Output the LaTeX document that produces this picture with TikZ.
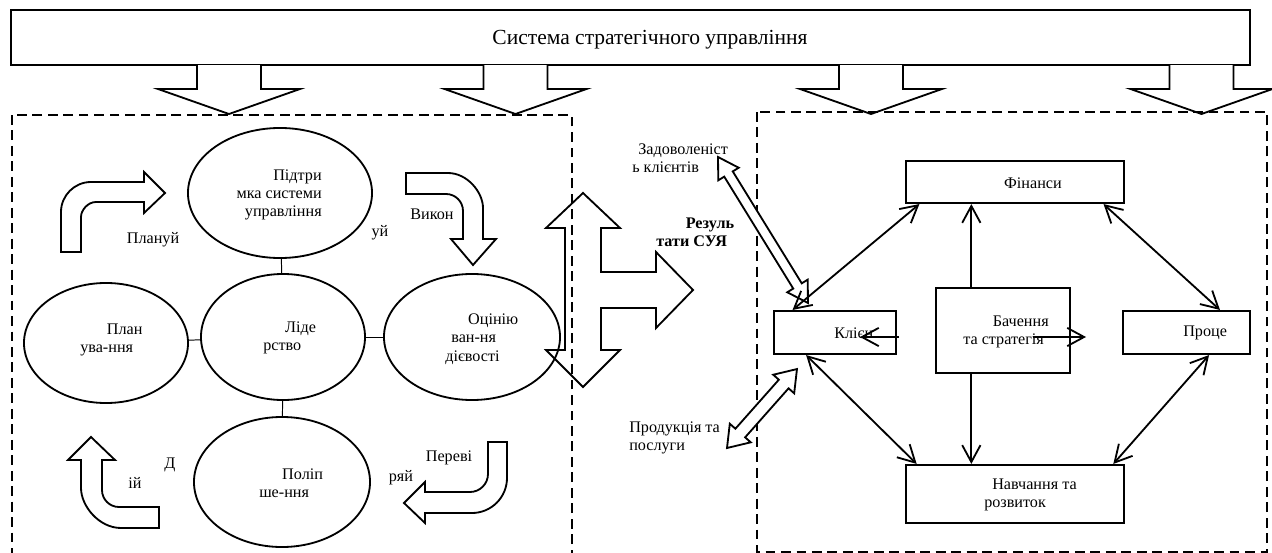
\documentclass[tikz,border=0pt]{standalone}
\usepackage{fontspec}
\setmainfont{Liberation Serif}
\usetikzlibrary{arrows.meta,shapes.geometric}

\tikzset{
  >={Straight Barb[length=12pt,width=13pt]},
  ellip/.style={draw, ellipse, line width=1.3pt, inner sep=0pt},
  rbox/.style={draw, rectangle, line width=1.5pt, inner sep=0pt},
  lbl/.style={inner sep=0pt, align=left, font=\fontsize{11.5}{13}\selectfont},
  blk/.style={draw, line width=1.3pt, fill=white, line join=miter},
  dashbox/.style={dash pattern=on 7pt off 4pt, line width=1.4pt},
  link/.style={line width=1.3pt},
  pics/downarr/.style={code={
    \draw[blk] (-32,0) -- (-32,24) -- (-71,24) -- (0,49) -- (71,24) -- (32,24) -- (32,0);}},
  pics/dblarr/.style n args={3}{code={
    \draw[blk] (0,0) -- (20,#3) -- (20,#2) -- ({#1-20},#2) -- ({#1-20},#3) -- (#1,0)
      -- ({#1-20},-#3) -- ({#1-20},-#2) -- (20,-#2) -- (20,-#3) -- cycle;}}
}

\begin{document}
\begin{tikzpicture}[x=0.025cm, y=-0.025cm]
    \useasboundingbox (0,0) rectangle (1272,553);
    % banner
    \node[rbox, minimum width=30.975cm, minimum height=1.375cm] (sys) at (630.5,37.5) {};
    \node[lbl, font=\fontsize{15.3}{17}\selectfont] (sys-t) at (650,40) {Система стратегічного управління};
    \foreach \cx in {229,515.5,871,1201.5}
        \pic at (\cx,65) {downarr};
    \draw[dashbox] (12,115) rectangle (572,560);
    \draw[dashbox] (757,112) rectangle (1267,552);

    % left panel
    \node[ellip, minimum width=4.6cm, minimum height=3.25cm] (pod) at (280,193) {};
    \node[ellip, minimum width=4.1cm, minimum height=3cm] (plan) at (106,343) {};
    \node[ellip, minimum width=4.1cm, minimum height=3.15cm] (lid) at (283,337) {};
    \node[ellip, minimum width=4.4cm, minimum height=3.15cm] (ocin) at (472,337) {};
    \node[ellip, minimum width=4.4cm, minimum height=3.25cm] (polip) at (282,482) {};
    \draw[line width=0.7pt] (pod) -- (lid);
    \draw[line width=0.7pt] (plan) -- (lid);
    \draw[line width=0.7pt] (lid) -- (ocin);
    \draw[line width=0.7pt] (lid) -- (polip);
    \node[lbl, align=right, anchor=east] (pod-t) at (322,195) {Підтри\\мка системи\\управління};
    \node[lbl, anchor=west] (plan-t) at (80,340) {\hspace*{19pt}План\\ува-ння};
    \node[lbl, anchor=west] (lid-t) at (263,338) {\hspace*{15.6pt}Ліде\\рство};
    \node[lbl, anchor=west] (ocin-t) at (445,339) {\hspace*{16.3pt}Оцінію\\\hspace*{4.3pt}ван-ня\\дієвості};
    \node[lbl, anchor=west] (polip-t) at (259,483) {\hspace*{16.3pt}Поліп\\ше-ння};

    \draw[blk] (61,252) -- (61,212) .. controls (61,195.5) and (74.5,182) .. (91,182) -- (144,182)
        -- (144,172) -- (165,193) -- (144,213) -- (144,202) -- (96,202)
        .. controls (87.7,202) and (81,210.3) .. (81,217) -- (81,252) -- cycle;
    \draw[blk] (406,173) -- (448,173) .. controls (467.3,173) and (483,192.3) .. (483,208) -- (483,239)
        -- (496,239) -- (473,265) -- (451,239) -- (463,239) -- (463,211)
        .. controls (463,201.6) and (455.4,194) .. (446,194) -- (406,194) -- cycle;
    \draw[blk] (159,528) -- (121,528) .. controls (99,528) and (81,506) .. (81,488) -- (81,460)
        -- (68,460) -- (91,437) -- (115,460) -- (102,460) -- (102,490)
        .. controls (102,499.4) and (109.6,507) .. (119,507) -- (159,507) -- cycle;
    \draw[blk] (507,442) -- (507,478) .. controls (507,497.3) and (491.3,513) .. (472,513) -- (425,513)
        -- (425,523) -- (404,503) -- (425,482) -- (425,492) -- (470,492)
        .. controls (479.9,492) and (488,483.9) .. (488,474) -- (488,442) -- cycle;
    \node[lbl] (plan-a) at (153,240) {Плануй};
    \node[lbl] (vyk-a) at (432,214) {Викон};
    \node[lbl] (vyk-b) at (380,233) {уй};
    \node[lbl] (dii-a) at (170,465) {Д};
    \node[lbl] (dii-b) at (135,483) {ій};
    \node[lbl] (per-a) at (449,458) {Переві};
    \node[lbl] (per-b) at (401,478) {ряй};

    % results
    \draw[blk, fill=none] (583,193) -- (620,228) -- (601,228) -- (601,272) -- (656,272) -- (656,252)
        -- (693,290) -- (656,328) -- (656,308) -- (601,308) -- (601,350) -- (620,350) -- (583,387)
        -- (546,350) -- (565,350) -- (565,228) -- (546,228) -- cycle;
    \node[lbl, font=\fontsize{11.5}{13}\selectfont\bfseries, anchor=west] (res-t) at (656,232) {\hspace*{21pt}Резуль\\тати СУЯ};
    \pic[rotate=-58.35] at (718,157) {dblarr={171.5}{5}{12}};
    \pic[rotate=48.45] at (727,448) {dblarr={105.5}{6.5}{14}};
    \node[lbl, anchor=west] (zad-t) at (632,158) {\hspace*{4.3pt}Задоволеніст\\ь клієнтів};
    \node[lbl, anchor=west] (prod-t) at (629,438) {Продукція та\\послуги};

    % right panel
    \node[rbox, minimum width=5.45cm, minimum height=1.05cm] (fin) at (1015,182) {};
    \node[rbox, minimum width=3.05cm, minimum height=1.075cm] (kli) at (835,332.5) {};
    \node[rbox, minimum width=3.35cm, minimum height=2.125cm] (bach) at (1003,330.5) {};
    \node[rbox, minimum width=3.175cm, minimum height=1.075cm] (proc) at (1186.5,332.5) {};
    \node[rbox, minimum width=5.45cm, minimum height=1.45cm] (navch) at (1015,494) {};
    \node[lbl] (fin-t) at (1033,183) {Фінанси};
    \node[lbl, anchor=west] (kli-t) at (834,333) {Клієн};
    \node[lbl, anchor=west] (bach-t) at (963,332) {\hspace*{21pt}Бачення\\та стратегія};
    \node[lbl, anchor=west] (proc-t) at (1183,333) {Проце};
    \node[lbl, anchor=west] (navch-t) at (984,495) {\hspace*{5.7pt}Навчання та\\розвиток};
    \draw[link, <->] (kli.152) -- (fin.193);
    \draw[link, ->] (bach.126) -- (bach.126 |- fin.south);
    \draw[link, ->] (bach.234) -- (bach.234 |- navch.north);
    \draw[link, <->] (fin.346) -- (proc.34);
    \draw[link, <->] (kli.218) -- (navch.163);
    \draw[link, <->] (proc.315) -- (navch.17);
    \coordinate (k-out) at (899,337);
    \coordinate (k-in) at (860,337);
    \coordinate (p-out) at (1033,337);
    \coordinate (p-in) at (1086,337);
    \draw[link, ->] (k-out) -- (k-in);
    \draw[link, ->] (p-out) -- (p-in);
\end{tikzpicture}
\end{document}
